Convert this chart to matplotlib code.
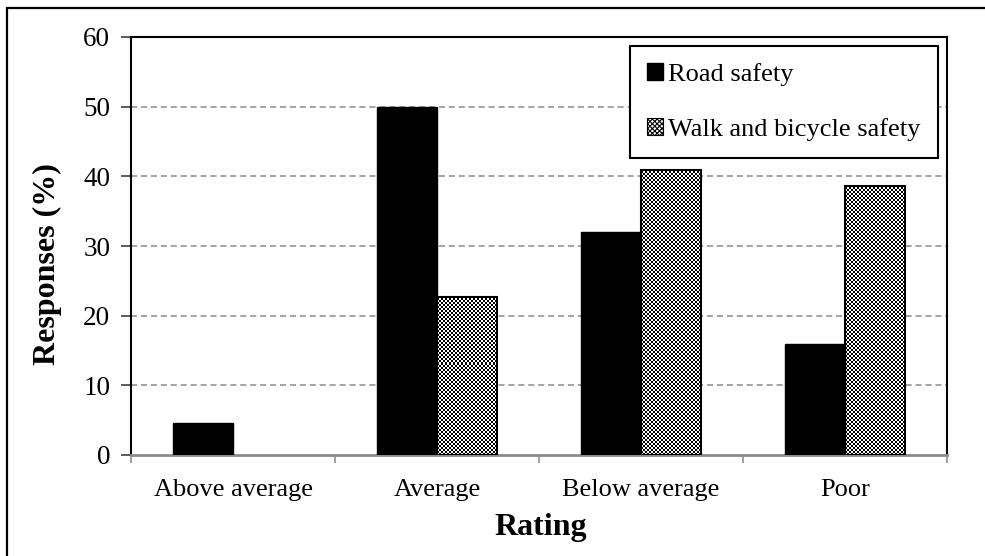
import numpy as np
import matplotlib.pyplot as plt
from matplotlib.patches import Patch, Rectangle

# данные с картинки
ratings = ["Above average", "Average", "Below average", "Poor"]
road = [4.6, 50.0, 32.0, 16.0]
walk = [0.0, 22.7, 40.9, 38.6]
series_names = ["Road safety", "Walk and bicycle safety"]

plt.rcParams["font.family"] = ["Liberation Serif", "DejaVu Serif"]
plt.rcParams["hatch.linewidth"] = 0.8

fig = plt.figure(figsize=(9.85, 5.56), dpi=100)
ax = fig.add_axes([131 / 985, 101 / 556, 816 / 985, 418 / 556])

x = np.arange(len(ratings))
w = 0.294

ax.bar(x - w / 2, road, w, color="black", edgecolor="black", linewidth=1.0, zorder=3)
walk_bars = ax.bar(x + w / 2, walk, w, facecolor="none", edgecolor="black",
                   linewidth=1.5, zorder=4)

# шахматная заливка, обрезанная по столбикам
rows, cols = 209, 408
checker = (np.indices((rows, cols)).sum(axis=0) % 2).astype(float)
for b in walk_bars:
    if b.get_height() <= 0:
        b.set_linewidth(0)
        continue
    im = ax.imshow(checker, cmap="gray", interpolation="nearest", aspect="auto",
                   extent=[0, 1, 0, 1], transform=ax.transAxes, zorder=3.5)
    im.set_clip_path(b)
ax.set_xlim(-0.5, len(ratings) - 0.5)
ax.set_ylim(0, 60)

# сетка
ax.set_yticks(range(0, 70, 10))
for yv in range(10, 60, 10):
    ax.axhline(yv, color="#8c8c8c", linestyle=(0, (4, 2.5)), linewidth=1.1, zorder=1)

ax.tick_params(axis="y", direction="out", length=7, width=1.2, color="#404040",
               labelsize=19.5, pad=8)

# подписи категорий в центрах, засечки на границах
ax.set_xticks(np.arange(-0.5, len(ratings), 1.0))
ax.set_xticklabels([])
ax.set_xticks(x, minor=True)
ax.set_xticklabels(ratings, minor=True)
ax.tick_params(axis="x", which="major", direction="out", length=6, width=1.2,
               color="#909090")
ax.tick_params(axis="x", which="minor", length=0, labelsize=19, pad=17)

for s in ["top", "right", "left"]:
    ax.spines[s].set_color("black")
    ax.spines[s].set_linewidth(1.5)
ax.spines["bottom"].set_color("#8c8c8c")
ax.spines["bottom"].set_linewidth(2.0)

ax.set_ylabel("Responses (%)", fontsize=23, fontweight="bold")
ax.yaxis.set_label_coords(-0.085, 0.457)
ax.set_xlabel("Rating", fontsize=23, fontweight="bold")
ax.xaxis.set_label_coords(0.502, -0.138)

handles = [
    Patch(facecolor="black", edgecolor="black"),
    Patch(facecolor="white", edgecolor="black", hatch="xxxxxxx", linewidth=0.8),
]
leg = ax.legend(handles, series_names, loc="upper left",
                bbox_to_anchor=(0.6115, 0.9785), borderaxespad=0,
                fontsize=19, frameon=True, fancybox=False, framealpha=1,
                edgecolor="black", handlelength=0.6, handleheight=0.6,
                handletextpad=0.2, labelspacing=1.2, borderpad=0.65)
leg.get_frame().set_linewidth(1.5)
leg.set_zorder(10)

# внешняя рамка рисунка
fig.patches.append(Rectangle((7 / 985, -0.05), 1.2, 0.05 + (556 - 8) / 556,
                             transform=fig.transFigure, fill=False,
                             edgecolor="black", linewidth=1.6))

fig.savefig("out.png", dpi=100)
